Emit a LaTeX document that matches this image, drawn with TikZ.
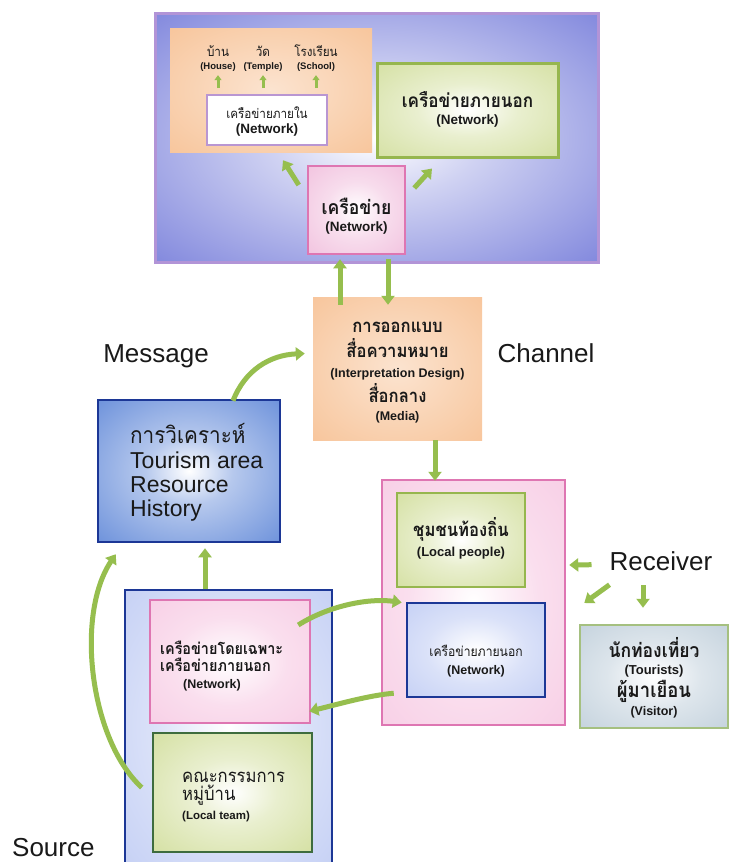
\documentclass[tikz,border=0pt]{standalone}
\usepackage{fontspec}
\setmainfont{Liberation Sans}
\newfontfamily\thaifont[Script=Thai, FakeStretch=0.9]{Loma}
\usetikzlibrary{arrows.meta}

\definecolor{arrowgreen}{RGB}{150,190,78}
\definecolor{topblue}{RGB}{96,104,212}
\definecolor{topborder}{RGB}{178,148,215}
\definecolor{orangefill}{RGB}{247,194,150}
\definecolor{greenfill}{RGB}{200,215,135}
\definecolor{greenborder}{RGB}{150,182,78}
\definecolor{pinkfill}{RGB}{238,178,214}
\definecolor{pinkborder}{RGB}{222,118,178}
\definecolor{innerborder}{RGB}{185,150,210}
\definecolor{msgblue}{RGB}{72,118,210}
\definecolor{navy}{RGB}{28,55,150}
\definecolor{paleblue}{RGB}{182,196,242}
\definecolor{palepink}{RGB}{246,196,224}
\definecolor{darkgreen}{RGB}{62,108,62}
\definecolor{greyblue}{RGB}{180,198,212}
\definecolor{touristborder}{RGB}{165,192,128}

% soft radial fills: light centre fading to the box colour
\pgfdeclareradialshading{shTop}{\pgfpoint{0bp}{0bp}}{color(0bp)=(white); color(12bp)=(topblue!30); color(46bp)=(topblue); color(72bp)=(topblue)}
\pgfdeclareradialshading{shOrange}{\pgfpoint{0bp}{0bp}}{color(0bp)=(orangefill!45); color(40bp)=(orangefill); color(72bp)=(orangefill)}
\pgfdeclareradialshading{shGreen}{\pgfpoint{0bp}{0bp}}{color(0bp)=(white); color(14bp)=(greenfill!40); color(50bp)=(greenfill); color(72bp)=(greenfill)}
\pgfdeclareradialshading{shPink}{\pgfpoint{0bp}{0bp}}{color(0bp)=(white); color(16bp)=(pinkfill!45); color(50bp)=(pinkfill); color(72bp)=(pinkfill)}
\pgfdeclareradialshading{shMsg}{\pgfpoint{0bp}{0bp}}{color(0bp)=(white); color(12bp)=(msgblue!40); color(48bp)=(msgblue); color(72bp)=(msgblue)}
\pgfdeclareradialshading{shPaleBlue}{\pgfpoint{0bp}{0bp}}{color(0bp)=(white); color(18bp)=(paleblue!50); color(50bp)=(paleblue); color(72bp)=(paleblue)}
\pgfdeclareradialshading{shPalePink}{\pgfpoint{0bp}{0bp}}{color(0bp)=(white); color(18bp)=(palepink!55); color(50bp)=(palepink); color(72bp)=(palepink)}
\pgfdeclareradialshading{shGrey}{\pgfpoint{0bp}{0bp}}{color(0bp)=(white); color(16bp)=(greyblue!45); color(50bp)=(greyblue); color(72bp)=(greyblue)}

\newcommand\thaiT[2]{{\thaifont\fontsize{#1}{#1}\selectfont #2}}
\newcommand\thaiB[2]{{\thaifont\fontsize{#1}{#1}\selectfont\bfseries #2}}
\newcommand\latT[2]{{\fontsize{#1}{#1}\selectfont #2}}
\newcommand\latB[2]{{\fontsize{#1}{#1}\selectfont\bfseries #2}}

\begin{document}
\begin{tikzpicture}[x=1pt,y=-1pt,
  box/.style={rectangle, inner sep=0pt, shade},
  txt/.style={inner sep=0pt, text=black!90, anchor=base},
  ltxt/.style={inner sep=0pt, text=black!90, anchor=base west},
  garr/.style={draw=arrowgreen, line width=5pt, -{Triangle[width=13pt,length=9pt]}},
  sarr/.style={draw=arrowgreen, line width=3pt, -{Triangle[width=7pt,length=5pt]}}]

\useasboundingbox (0,0) rectangle (729,862);
\fill[white] (0,0) rectangle (729,862);

% ---------- upper block: networks ----------
\node[box, shading=shTop, draw=topborder, line width=3pt,
      minimum width=443pt, minimum height=249pt] (top) at (376.5,137.5) {};
\node[box, shading=shOrange, minimum width=202pt, minimum height=124pt] (orangeTop) at (271,90) {};

\node[txt] (house)   at (218,56) {\thaiT{13}{บ้าน}};
\node[txt] (temple)  at (263,56) {\thaiT{13}{วัด}};
\node[txt] (school)  at (316,56) {\thaiT{13}{โรงเรียน}};
\node[txt] (houseEn)  at (218,69) {\latB{9.5}{(House)}};
\node[txt] (templeEn) at (263,69) {\latB{9.5}{(Temple)}};
\node[txt] (schoolEn) at (316,69) {\latB{9.5}{(School)}};

\node[rectangle, inner sep=0pt, fill=white, draw=innerborder, line width=2pt,
      minimum width=120pt, minimum height=50pt] (inner) at (267,120) {};
\node[txt] (innerTh) at (267,118) {\thaiT{13}{เครือข่ายภายใน}};
\node[txt] (innerEn) at (267,133) {\latB{13.5}{(Network)}};

\draw[sarr, shorten <=6pt, shorten >=4pt] (inner.north -| houseEn) -- (houseEn.south);
\draw[sarr, shorten <=6pt, shorten >=4pt] (inner.north -| templeEn) -- (templeEn.south);
\draw[sarr, shorten <=6pt, shorten >=4pt] (inner.north -| schoolEn) -- (schoolEn.south);

\node[box, shading=shGreen, draw=greenborder, line width=3pt,
      minimum width=181pt, minimum height=94pt] (greenTop) at (467.5,110) {};
\node[txt] (greenTopTh) at (467.5,107) {\thaiB{19}{เครือข่ายภายนอก}};
\node[txt] (greenTopEn) at (467.5,124) {\latB{13.5}{(Network)}};

\node[box, shading=shPink, draw=pinkborder, line width=2.5pt,
      minimum width=97pt, minimum height=88pt] (pinkNet) at (356.5,210) {};
\node[txt] (pinkNetTh) at (356.5,214) {\thaiB{19.5}{เครือข่าย}};
\node[txt] (pinkNetEn) at (356.5,231) {\latB{13.5}{(Network)}};

\draw[garr] ([shift={(-8,-25)}]pinkNet.west) -- ([shift={(12,8)}]orangeTop.south);
\draw[garr] ([shift={(8,-22)}]pinkNet.east) -- ([shift={(-35.5,10)}]greenTop.south);

% ---------- channel ----------
\node[box, shading=shOrange, minimum width=169pt, minimum height=143pt] (orangeMid) at (397.5,368.5) {};
\node[txt] (designTh1) at (397.5,332) {\thaiB{18.5}{การออกแบบ}};
\node[txt] (designTh2) at (397.5,357) {\thaiB{18.5}{สื่อความหมาย}};
\node[txt] (designEn)  at (397.5,377) {\latB{12.5}{(Interpretation Design)}};
\node[txt] (mediaTh)   at (397.5,402) {\thaiB{18.5}{สื่อกลาง}};
\node[txt] (mediaEn)   at (397.5,420) {\latB{12.5}{(Media)}};

\draw[garr] ([shift={(-57.5,8)}]orangeMid.north) -- ([shift={(-16.5,4)}]pinkNet.south);
\draw[garr] ([shift={(31.5,4)}]pinkNet.south) -- ([shift={(-9.5,8)}]orangeMid.north);

\node[txt] (message) at (156,362) {\latT{26}{Message}};
\node[txt] (channel) at (546,362) {\latT{26}{Channel}};

% ---------- message: analysis ----------
\node[box, shading=shMsg, draw=navy, line width=2.5pt,
      minimum width=182pt, minimum height=142pt] (msg) at (189,471) {};
\node[ltxt] (msgTh) at (130,443) {\thaiT{23}{การวิเคราะห์}};
\node[ltxt] (msg1)  at (130,468) {\latT{23}{Tourism area}};
\node[ltxt] (msg2)  at (130,492) {\latT{23}{Resource}};
\node[ltxt] (msg3)  at (130,516) {\latT{23}{History}};

\draw[garr] ([shift={(44,2)}]msg.north) .. controls (245,370) and (270,355) .. ([shift={(-8,-15)}]orangeMid.west);

% ---------- source ----------
\node[box, shading=shPaleBlue, draw=navy, line width=2.5pt,
      minimum width=207pt, minimum height=275pt] (leftC) at (228.5,727.5) {};
\node[box, shading=shPalePink, draw=pinkborder, line width=2.5pt,
      minimum width=160pt, minimum height=123pt] (pinkLeft) at (230,661.5) {};
\node[ltxt] (pinkLeftTh1) at (160,654) {\thaiB{16}{เครือข่ายโดยเฉพาะ}};
\node[ltxt] (pinkLeftTh2) at (160,671) {\thaiB{16}{เครือข่ายภายนอก}};
\node[txt] (pinkLeftEn) at (212,688) {\latB{12.5}{(Network)}};

\node[box, shading=shGreen, draw=darkgreen, line width=2.5pt,
      minimum width=159pt, minimum height=119pt] (greenLeft) at (232.5,792.5) {};
\node[ltxt] (teamTh1) at (182,782) {\thaiT{18.5}{คณะกรรมการ}};
\node[ltxt] (teamTh2) at (182,800) {\thaiT{18.5}{หมู่บ้าน}};
\node[ltxt] (teamEn)  at (182,819) {\latB{11.5}{(Local team)}};

\draw[garr] ([shift={(-23.5,0)}]leftC.north) -- ([shift={(16,5)}]msg.south);
\draw[garr] ([shift={(-10,-5)}]greenLeft.west) .. controls (90,740) and (75,615) .. ([shift={(19,11)}]msg.south west);

\node[ltxt] (source) at (12,856) {\latT{26}{Source}};

% ---------- receiver ----------
\node[box, shading=shPalePink, draw=pinkborder, line width=2.5pt,
      minimum width=183pt, minimum height=245pt] (rightC) at (473.5,602.5) {};
\node[box, shading=shGreen, draw=greenborder, line width=2.5pt,
      minimum width=128pt, minimum height=94pt] (greenRight) at (461,540) {};
\node[txt] (localTh) at (461,536) {\thaiB{18.5}{ชุมชนท้องถิ่น}};
\node[txt] (localEn) at (461,556) {\latB{13}{(Local people)}};

\node[box, shading=shPaleBlue, draw=navy, line width=2.5pt,
      minimum width=138pt, minimum height=94pt] (blueRight) at (476,650) {};
\node[txt] (blueRightTh) at (476,656) {\thaiT{13.5}{เครือข่ายภายนอก}};
\node[txt] (blueRightEn) at (476,674) {\latB{12.5}{(Network)}};

\draw[garr] ([shift={(37.5,0)}]orangeMid.south) -- ([shift={(-38.5,2)}]rightC.north);

\draw[garr] ([shift={(-13,-36.5)}]pinkLeft.east) .. controls (330,605) and (370,598) .. ([shift={(21,0)}]rightC.west);
\draw[garr] ([shift={(-12,-5)}]blueRight.south west) .. controls (370,695) and (335,705) .. ([shift={(-2,-13)}]pinkLeft.south east);

\node[txt] (receiver) at (661,570) {\latT{26}{Receiver}};

\node[box, shading=shGrey, draw=touristborder, line width=2.5pt,
      minimum width=148pt, minimum height=103pt] (tourist) at (654,676.5) {};
\node[txt] (touristTh) at (654,657) {\thaiB{19.5}{นักท่องเที่ยว}};
\node[txt] (touristEn) at (654,674) {\latB{13}{(Tourists)}};
\node[txt] (visitorTh) at (654,697) {\thaiB{20.5}{ผู้มาเยือน}};
\node[txt] (visitorEn) at (654,715) {\latB{12.5}{(Visitor)}};

\draw[garr] ([shift={(-18,4)}]receiver.west) -- ([shift={(3,-37.5)}]rightC.east);
\draw[garr] ([shift={(0,24)}]receiver.west) -- ([shift={(18,0.5)}]rightC.east);
\draw[garr] ([shift={(-18,15)}]receiver.south) -- ([shift={(-11,-16)}]tourist.north);

\end{tikzpicture}
\end{document}
